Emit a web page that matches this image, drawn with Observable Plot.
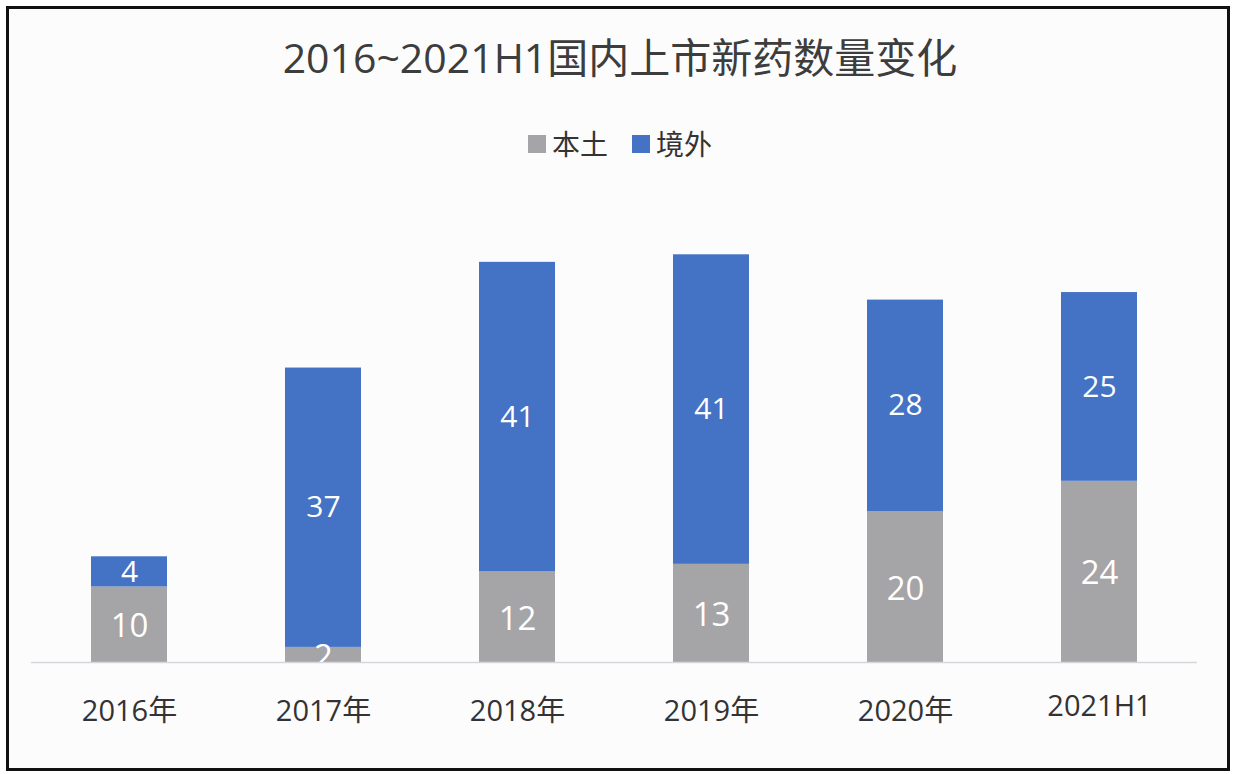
<!DOCTYPE html>
<html>
<head>
<meta charset="utf-8">
<script src="https://cdn.jsdelivr.net/npm/d3@7"></script>
<script src="https://cdn.jsdelivr.net/npm/@observablehq/plot@0.6"></script>
<style>
  html, body { margin: 0; padding: 0; background: #ffffff; }
  body { width: 1234px; height: 774px; position: relative; overflow: hidden;
         font-family: "Open Sans", "Noto Sans CJK SC", sans-serif; }
  #frame { position: absolute; left: 6px; top: 6px; width: 1224px; height: 765px;
           box-sizing: border-box; border: 3px solid #111; background: #fcfcfd; }
  #title { position: absolute; left: 0; top: 32px; width: 1240px; text-align: center;
           font-size: 41px; line-height: 50px; color: #3d3d3d; }
  #legend { position: absolute; left: 0; top: 126px; width: 1240px; display: flex;
            justify-content: center; align-items: center; font-size: 28px; line-height: 36px; color: #333; }
  .item { display: flex; align-items: center; margin: 0 12px; }
  .sw { width: 18px; height: 18px; margin-right: 6px; }
  #chart { position: absolute; left: 0; top: 200px; }
</style>
</head>
<body>
<div id="frame"></div>
<div id="title">2016~2021H1国内上市新药数量变化</div>
<div id="legend"></div>
<div id="chart"></div>
<script>
const categories = ["2016年", "2017年", "2018年", "2019年", "2020年", "2021H1"];
const seriesNames = ["本土", "境外"];
const domestic = [10, 2, 12, 13, 20, 24];
const foreign = [4, 37, 41, 41, 28, 25];
const seriesColors = ["#a5a4a7", "#4472c4"];

const rows = [];
categories.forEach((c, i) => rows.push({cat: c, series: seriesNames[0], value: domestic[i]}));
categories.forEach((c, i) => rows.push({cat: c, series: seriesNames[1], value: foreign[i]}));

// legend
const legend = document.getElementById("legend");
seriesNames.forEach((s, i) => {
  const item = document.createElement("div");
  item.className = "item";
  const sw = document.createElement("span");
  sw.className = "sw";
  sw.style.background = seriesColors[i];
  const t = document.createElement("span");
  t.textContent = s;
  item.appendChild(sw); item.appendChild(t);
  legend.appendChild(item);
});

const font = "\"Open Sans\", \"Noto Sans CJK SC\", sans-serif";
const plot = Plot.plot({
  width: 1234,
  height: 540,
  marginLeft: 31,
  marginRight: 37,
  marginTop: 9,
  marginBottom: 78,
  style: {background: "transparent", fontFamily: font},
  x: {domain: categories, paddingInner: 0.61, paddingOuter: 0.305, label: null},
  y: {domain: [0, 60], axis: null},
  color: {domain: seriesNames, range: seriesColors},
  marks: [
    Plot.barY(rows, Plot.stackY({x: "cat", y: "value", z: "series", fill: "series", order: null})),
    Plot.ruleY([0], {stroke: "#d6d5dc", strokeWidth: 1.5}),
    Plot.text(rows.filter(d => d.series === seriesNames[0]), Plot.stackY({
      x: "cat", y: "value", text: "value", fill: "white", fontSize: 33, dy: 2, clip: "frame"
    })),
    Plot.text(rows, Plot.stackY({
      x: "cat", y: "value", z: "series", text: d => d.series === seriesNames[1] ? d.value : null,
      fill: "white", fontSize: 30, order: null
    })),
    Plot.axisX({ticks: categories.slice(0, 5), tickSize: 0, tickPadding: 38, fontSize: 29, fill: "#333", label: null}),
    Plot.axisX({ticks: categories.slice(5), tickSize: 0, tickPadding: 33, fontSize: 29, fill: "#333", label: null})
  ]
});
document.getElementById("chart").appendChild(plot);
</script>
</body>
</html>
